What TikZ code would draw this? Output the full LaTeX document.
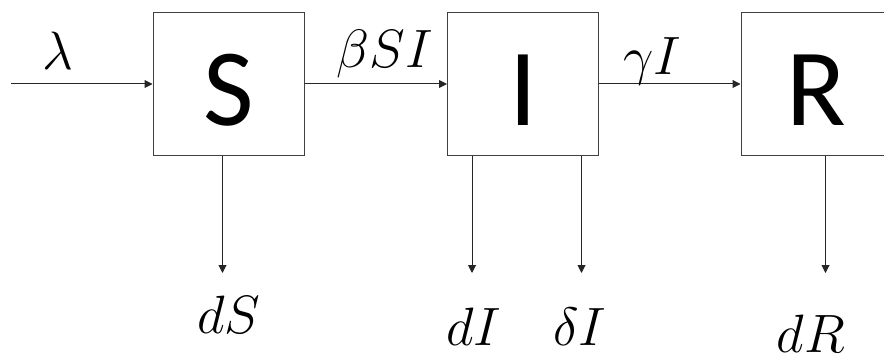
\documentclass[tikz,border=0pt]{standalone}
\usepackage{fontspec}
\usetikzlibrary{arrows.meta}
\newfontfamily\boxfont{Carlito}
\newcommand{\compfont}{\boxfont\fontsize{110}{120}\selectfont}
\tikzset{
  box/.style={draw=black!75, line width=1pt, minimum width=151pt, minimum height=143pt,
    inner sep=0pt, text height=84pt, text depth=0pt, font=\compfont},
  flow/.style={draw=black!85, line width=1pt, -{Triangle[length=8pt,width=8pt]}},
  rate/.style={font=\Huge, scale=2.17, inner sep=0pt, anchor=base},
}

\begin{document}
\begin{tikzpicture}[x=1pt, y=1pt]
  \clip (0,0) rectangle (884,362);
  % compartments
  \node[box] (S) at (228.5,278) {S};
  \node[box] (I) at (523,278) {I};
  \node[box] (R) at (816.5,278) {R};
  % flows between compartments
  \coordinate (in) at (11,278);
  \draw[flow] (in) -- (S);
  \draw[flow] (S) -- (I);
  \draw[flow] (I) -- (R);
  \node[rate] (lam) at (58,292) {$\lambda$};
  \node[rate] (inf) at (385,294) {$\beta SI$};
  \node[rate] (rec) at (652,287) {$\gamma I$};
  % outflows
  \coordinate (Sout) at (222.5,89);
  \coordinate (Iout) at (472,89);
  \coordinate (Ddie) at (581.5,89);
  \coordinate (Rout) at (825.5,89);
  \draw[flow] (S.south -| Sout) -- (Sout);
  \draw[flow] (I.south -| Iout) -- (Iout);
  \draw[flow] (I.south -| Ddie) -- (Ddie);
  \draw[flow] (R.south -| Rout) -- (Rout);
  \node[rate] (dS) at (229,29) {$dS$};
  \node[rate] (dI) at (474,17) {$dI$};
  \node[rate] (delI) at (580,17) {$\delta I$};
  \node[rate] (dR) at (811,10) {$dR$};
\end{tikzpicture}
\end{document}
